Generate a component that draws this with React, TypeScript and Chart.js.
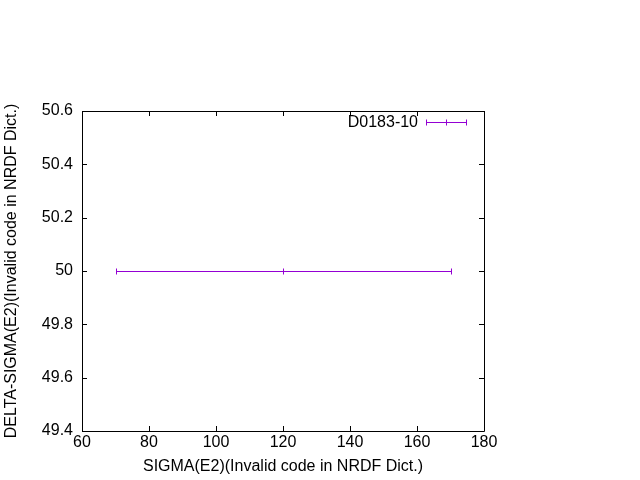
import React, { useEffect, useRef } from "react";
import { Chart, registerables } from "chart.js";

Chart.register(...registerables);

const seriesLabel = "D0183-10";
const xValues = [120];
const yValues = [50];
const xErrLow = [70];
const xErrHigh = [170];
const xTicks = [60, 80, 100, 120, 140, 160, 180];
const yTicks = [49.4, 49.6, 49.8, 50, 50.2, 50.4, 50.6];
const xTitle = "SIGMA(E2)(Invalid code in NRDF Dict.)";
const yTitle = "DELTA-SIGMA(E2)(Invalid code in NRDF Dict.)";

const COLOR = "#9400D3";
const FONT = "'Liberation Sans', Arial, sans-serif";
const FS = 16;

const framePlugin = {
  id: "frame",
  afterDraw(chart: any) {
    const { ctx, chartArea, scales } = chart;
    const { left, right, top, bottom } = chartArea;
    ctx.save();
    ctx.strokeStyle = "#000";
    ctx.lineWidth = 1;
    ctx.beginPath();
    ctx.rect(Math.round(left) + 0.5, Math.round(top) + 0.5, Math.round(right - left), Math.round(bottom - top));
    ctx.stroke();
    const tl = 5;
    ctx.beginPath();
    for (const v of xTicks) {
      const px = Math.round(scales.x.getPixelForValue(v)) + 0.5;
      ctx.moveTo(px, bottom);
      ctx.lineTo(px, bottom - tl);
      ctx.moveTo(px, top);
      ctx.lineTo(px, top + tl);
    }
    for (const v of yTicks) {
      const py = Math.round(scales.y.getPixelForValue(v)) + 0.5;
      ctx.moveTo(left, py);
      ctx.lineTo(left + tl, py);
      ctx.moveTo(right, py);
      ctx.lineTo(right - tl, py);
    }
    ctx.stroke();

    // error bars
    ctx.strokeStyle = COLOR;
    ctx.beginPath();
    for (let i = 0; i < xValues.length; i++) {
      const py = Math.round(scales.y.getPixelForValue(yValues[i])) + 0.5;
      const x1 = Math.round(scales.x.getPixelForValue(xErrLow[i])) + 0.5;
      const x2 = Math.round(scales.x.getPixelForValue(xErrHigh[i])) + 0.5;
      const xc = Math.round(scales.x.getPixelForValue(xValues[i])) + 0.5;
      ctx.moveTo(x1, py);
      ctx.lineTo(x2, py);
      for (const xx of [x1, x2, xc]) {
        ctx.moveTo(xx, py - 3);
        ctx.lineTo(xx, py + 3);
      }
    }
    ctx.stroke();

    // legend
    const ly = 122.5;
    ctx.fillStyle = "#000";
    ctx.font = `${FS}px ${FONT}`;
    ctx.textAlign = "right";
    ctx.textBaseline = "middle";
    ctx.fillText(seriesLabel, 418, ly);
    ctx.strokeStyle = COLOR;
    ctx.beginPath();
    ctx.moveTo(426.5, ly);
    ctx.lineTo(466.5, ly);
    for (const xx of [426.5, 446.5, 466.5]) {
      ctx.moveTo(xx, ly - 3);
      ctx.lineTo(xx, ly + 3);
    }
    ctx.stroke();
    ctx.restore();
  },
};

export default function App() {
  const ref = useRef<HTMLCanvasElement>(null);
  useEffect(() => {
    if (!ref.current) return;
    const chart = new Chart(ref.current, {
      type: "scatter",
      data: {
        datasets: [
          {
            label: seriesLabel,
            data: xValues.map((x, i) => ({ x, y: yValues[i] })),
            pointRadius: 0,
            borderColor: COLOR,
            backgroundColor: COLOR,
          },
        ],
      },
      options: {
        responsive: false,
        animation: false,
        layout: { padding: { left: 0, top: 111, right: 156, bottom: 0 } },
        plugins: { legend: { display: false }, tooltip: { enabled: false } },
        scales: {
          x: {
            type: "linear",
            min: 60,
            max: 180,
            afterBuildTicks: (s: any) => {
              s.ticks = xTicks.map((v) => ({ value: v }));
            },
            afterFit: (s: any) => {
              s.height = 49;
            },
            grid: { display: false, drawTicks: false },
            border: { display: false },
            ticks: {
              color: "#000",
              padding: 2,
              font: { family: FONT, size: FS },
              maxRotation: 0,
              autoSkip: false,
              callback: (v: any) => String(v),
            },
            title: {
              display: true,
              text: xTitle,
              color: "#000",
              font: { family: FONT, size: FS },
              padding: { top: 0, bottom: 4 },
            },
          },
          y: {
            type: "linear",
            min: 49.4,
            max: 50.6,
            afterBuildTicks: (s: any) => {
              s.ticks = yTicks.map((v) => ({ value: v }));
            },
            afterFit: (s: any) => {
              s.width = 82;
            },
            grid: { display: false, drawTicks: false },
            border: { display: false },
            ticks: {
              color: "#000",
              padding: 9,
              font: { family: FONT, size: FS },
              autoSkip: false,
              callback: (v: any) => String(Number(Number(v).toFixed(1))),
            },
            title: {
              display: true,
              text: yTitle,
              color: "#000",
              font: { family: FONT, size: FS },
              padding: { top: 2, bottom: 0 },
            },
          },
        },
      },
      plugins: [framePlugin],
    });
    return () => chart.destroy();
  }, []);
  return (
    <div style={{ position: "absolute", left: 0, top: 0, width: 640, height: 480, background: "#fff" }}>
      <canvas ref={ref} width={640} height={480} style={{ width: 640, height: 480 }} />
    </div>
  );
}
